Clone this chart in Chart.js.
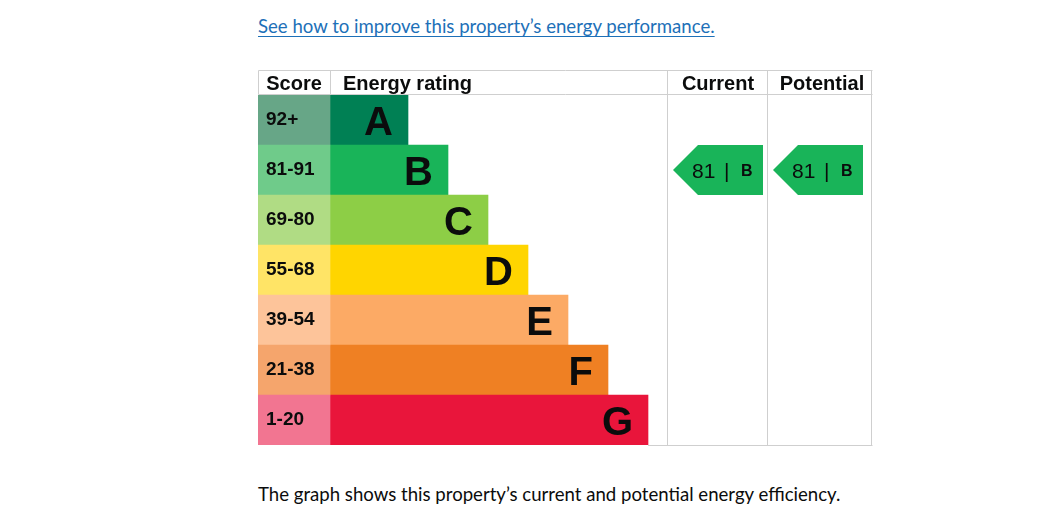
<!DOCTYPE html>
<html><head><meta charset="utf-8">
<script src="https://cdn.jsdelivr.net/npm/chart.js@4"></script>
<style>
html,body{margin:0;padding:0;background:#fff;}
#link{position:absolute;left:258px;top:15px;font:18.6px Lato,sans-serif;color:#1d70b8;text-decoration:underline;text-underline-offset:3px;white-space:nowrap;}
#wrap{position:absolute;left:258px;top:70px;width:615px;height:376px;}
#note{position:absolute;left:258px;top:483px;font:18.6px Lato,sans-serif;color:#0b0c0c;white-space:nowrap;}
</style></head><body>
<div id="link">See how to improve this property’s energy performance.</div>
<div id="wrap"><canvas id="c"></canvas></div>
<div id="note">The graph shows this property’s current and potential energy efficiency.</div>
<script>
// ---- data ----
const bands = ['A','B','C','D','E','F','G'];
const scoreRanges = ['92+','81-91','69-80','55-68','39-54','21-38','1-20'];
const barLengths = [78,118,158,198,238,278,318];
const bandColors = ['#008054','#19b459','#8dce46','#ffd500','#fcaa65','#ef8023','#e9153b'];
const scoreCellColors = ['#67a687','#6fcb8a','#b0dc84','#ffe466','#fdc49a','#f5a56c','#f27591'];
const columnHeaders = ['Score','Energy rating','Current','Potential'];
const currentScore = 81, currentBand = 'B';
const potentialScore = 81, potentialBand = 'B';

// ---- layout (x-scale units) ----
const SCORE_END = 72, CUR_START = 410, POT_START = 510, X_END = 614;

const scoreData = bands.map(() => [0, SCORE_END]);
const barData = barLengths.map(l => [SCORE_END, SCORE_END + l]);

const FONT = '"Liberation Sans", Arial, sans-serif';

const epcPlugin = {
  id: 'epc',
  afterDatasetsDraw(chart) {
    const ctx = chart.ctx, xs = chart.scales.x, ys = chart.scales.y, ca = chart.chartArea;
    const rowH = ca.height / bands.length;
    const X = v => xs.getPixelForValue(v);
    ctx.save();
    // score labels
    ctx.fillStyle = '#0b0c0c';
    ctx.textBaseline = 'alphabetic';
    ctx.font = 'bold 19px ' + FONT;
    ctx.textAlign = 'left';
    scoreRanges.forEach((s, i) => {
      const y = ys.getPixelForValue(i);
      ctx.fillText(s, X(0) + 8, y + 5);
    });
    // band letters
    ctx.font = 'bold 40px ' + FONT;
    ctx.textAlign = 'right';
    const meta = chart.getDatasetMeta(1);
    meta.data.forEach((bar, i) => {
      ctx.fillText(bands[i], bar.x - 15, bar.y + 14.5);
    });
    // arrows
    function arrow(score, band, start) {
      const idx = bands.indexOf(band);
      const cy = ys.getPixelForValue(idx);
      const top = cy - rowH / 2, bot = cy + rowH / 2;
      const x0 = X(start + 5), x1 = X(start + 95);
      ctx.fillStyle = bandColors[idx];
      ctx.beginPath();
      ctx.moveTo(x0, cy);
      ctx.lineTo(x0 + rowH / 2, top);
      ctx.lineTo(x1, top);
      ctx.lineTo(x1, bot);
      ctx.lineTo(x0 + rowH / 2, bot);
      ctx.closePath();
      ctx.fill();
      ctx.fillStyle = '#0b0c0c';
      ctx.textAlign = 'left';
      ctx.font = '21px ' + FONT;
      ctx.fillText(String(score), x0 + 19, cy + 7.5);
      ctx.fillText('|', x0 + 51, cy + 7.5);
      ctx.font = 'bold 16px ' + FONT;
      ctx.fillText(band, x0 + 68, cy + 6);
    }
    arrow(currentScore, currentBand, CUR_START);
    arrow(potentialScore, potentialBand, POT_START);
    // grid lines
    ctx.strokeStyle = '#cfcfcf';
    ctx.lineWidth = 1;
    const top = Math.round(ca.top - 25) + 0.5;
    const hb = Math.round(ca.top) - 0.5;
    const bottom = Math.round(ca.bottom) + 0.5;
    const L = Math.round(X(0)) + 0.5, R = Math.round(X(X_END)) + 0.5;
    ctx.beginPath();
    ctx.moveTo(L, top); ctx.lineTo(R, top);
    ctx.moveTo(L, hb); ctx.lineTo(R, hb);
    ctx.moveTo(X(barLengths[barLengths.length-1] + SCORE_END), bottom); ctx.lineTo(R, bottom);
    ctx.moveTo(L, top); ctx.lineTo(L, hb);
    const sx = Math.round(X(SCORE_END)) + 0.5;
    ctx.moveTo(sx, top); ctx.lineTo(sx, hb);
    [CUR_START, POT_START].forEach(v => {
      const px = Math.round(X(v)) - 0.5;
      ctx.moveTo(px, top); ctx.lineTo(px, bottom);
    });
    ctx.moveTo(R - 1, top); ctx.lineTo(R - 1, bottom);
    ctx.stroke();
    // headers
    ctx.fillStyle = '#0b0c0c';
    ctx.font = 'bold 20px ' + FONT;
    const hy = ca.top - 5;
    ctx.textAlign = 'center';
    ctx.fillText(columnHeaders[0], X(SCORE_END / 2), hy);
    ctx.textAlign = 'left';
    ctx.fillText(columnHeaders[1], X(SCORE_END) + 13, hy);
    ctx.textAlign = 'center';
    ctx.fillText(columnHeaders[2], X((CUR_START + POT_START) / 2), hy);
    ctx.fillText(columnHeaders[3], X((POT_START + X_END) / 2) + 2, hy);
    ctx.restore();
  }
};

new Chart(document.getElementById('c'), {
  type: 'bar',
  data: {
    labels: bands,
    datasets: [
      { data: scoreData, backgroundColor: scoreCellColors, grouped: false, borderWidth: 0, barPercentage: 1, categoryPercentage: 1 },
      { data: barData, backgroundColor: bandColors, grouped: false, borderWidth: 0, barPercentage: 1, categoryPercentage: 1 }
    ]
  },
  options: {
    indexAxis: 'y',
    responsive: true,
    maintainAspectRatio: false,
    animation: false,
    layout: { padding: { top: 25, bottom: 1, left: 0, right: 1 } },
    scales: {
      x: { type: 'linear', min: 0, max: X_END, display: false },
      y: { type: 'category', display: false }
    },
    plugins: { legend: { display: false }, tooltip: { enabled: false } }
  },
  plugins: [epcPlugin]
});
</script>
</body></html>
